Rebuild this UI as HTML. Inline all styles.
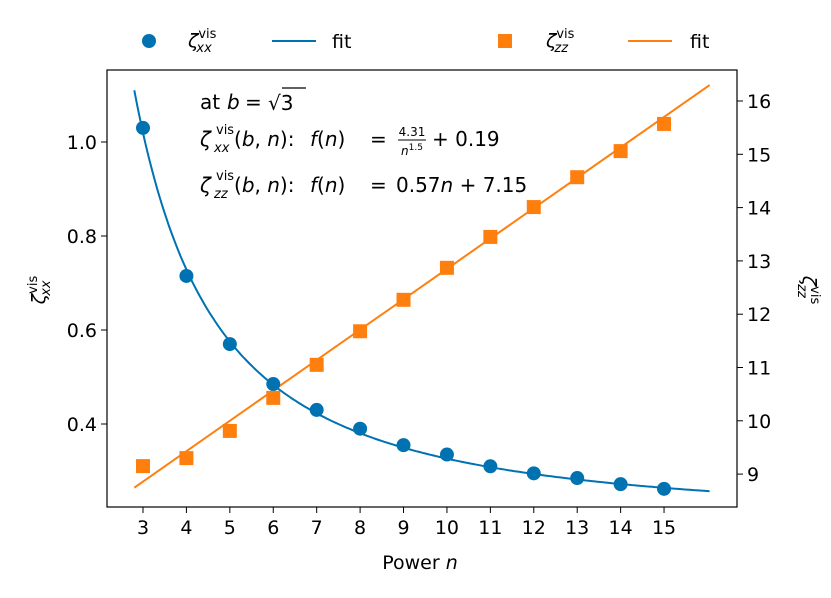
<!DOCTYPE html>
<html><head><meta charset="utf-8"><style>
body{margin:0;background:#fff;}
svg text{font-family:"DejaVu Sans","Liberation Sans",sans-serif;fill:#000;}
</style></head><body>
<svg id="c" width="831" height="593" viewBox="0 0 831 593"></svg>
<script>
const nValues=[3,4,5,6,7,8,9,10,11,12,13,14,15];
const zetaXX=[1.03,0.715,0.57,0.485,0.43,0.39,0.355,0.335,0.31,0.295,0.285,0.272,0.262];
const zetaZZ=[9.15,9.30,9.81,10.43,11.05,11.68,12.27,12.87,13.45,14.01,14.57,15.06,15.57];
const fitXX=[4.31,1.5,0.19];
const fitZZ=[0.57,7.15];
const leftTicks=[0.4,0.6,0.8,1.0];
const rightTicks=[9,10,11,12,13,14,15,16];
const xTicks=[3,4,5,6,7,8,9,10,11,12,13,14,15];

const svg=document.getElementById('c');
const NS='http://www.w3.org/2000/svg';
function mk(t,a,p){const e=document.createElementNS(NS,t);for(const k in a)e.setAttribute(k,a[k]);(p||svg).appendChild(e);return e;}
const X0=107,X1=737,Y0=70,Y1=507;
const xs=n=>143+(n-3)*43.42;
const yl=v=>142-(v-1.0)*470;
const yr=v=>101+(16-v)*53.3;
const B='#0072b2',O='#ff7f0e';
const NA=2.8,NB=16.05;

let d='';for(let i=0;i<=200;i++){const n=NA+i*(NB-NA)/200;d+=(i?'L':'M')+xs(n).toFixed(1)+','+yl(fitXX[0]/Math.pow(n,fitXX[1])+fitXX[2]).toFixed(1);}
let fb=mk('path',{d:d,stroke:B,'stroke-width':2,fill:'none'});


let fo=mk('line',{x1:xs(NA),y1:yr(fitZZ[0]*NA+fitZZ[1]),x2:xs(NB),y2:yr(fitZZ[0]*NB+fitZZ[1]),stroke:O,'stroke-width':2});


nValues.forEach((n,i)=>{
 const c=mk('circle',{cx:xs(n),cy:yl(zetaXX[i]),r:7,fill:B});
 
 
 const s=mk('rect',{x:xs(n)-7,y:yr(zetaZZ[i])-7,width:14,height:14,fill:O});
 
 
});
const fr=mk('rect',{x:X0,y:Y0,width:X1-X0,height:Y1-Y0,fill:'none',stroke:'#000','stroke-width':1.2});


xTicks.forEach(n=>{
 mk('line',{x1:xs(n),x2:xs(n),y1:Y1,y2:Y1+6,stroke:'#000'});
 const t=mk('text',{x:xs(n),y:Y1+27,'text-anchor':'middle','font-size':19});t.textContent=n;
 
 
});
leftTicks.forEach(v=>{
 mk('line',{x1:X0-6,x2:X0,y1:yl(v),y2:yl(v),stroke:'#000'});
 const t=mk('text',{x:X0-10,y:yl(v)+7,'text-anchor':'end','font-size':19});t.textContent=v.toFixed(1);
 
 
});
rightTicks.forEach(v=>{
 mk('line',{x1:X1,x2:X1+6,y1:yr(v),y2:yr(v),stroke:'#000'});
 const t=mk('text',{x:X1+10,y:yr(v)+7,'font-size':19});t.textContent=v;
 
 
});
</script>
<svg width="831" height="593" style="position:absolute;left:0;top:0">
<text x="420" y="569" text-anchor="middle" font-size="19">Power <tspan font-style="italic">n</tspan></text>
<text transform="translate(45,290) rotate(-90)" text-anchor="middle" font-size="19"><tspan font-style="italic">ζ</tspan><tspan font-size="13" dy="-8">vis</tspan><tspan font-size="13" dx="-20" dy="13" font-style="italic">xx</tspan></text>
<text transform="translate(803,290) rotate(90)" text-anchor="middle" font-size="19"><tspan font-style="italic">ζ</tspan><tspan font-size="13" dy="-8">vis</tspan><tspan font-size="13" dx="-20" dy="13" font-style="italic">zz</tspan></text>
<g font-size="20">
<text x="200" y="109">at</text><text x="227" y="109" font-style="italic">b</text><text x="245" y="109">=</text>
<text x="268" y="110">√3</text><line x1="282" y1="88" x2="306" y2="88" stroke="#000" stroke-width="1.2"/>
</g>
<g font-size="20">
<text x="200" y="146" font-style="italic">ζ</text>
<text x="216" y="134" font-size="13">vis</text>
<text x="214" y="152" font-size="13" font-style="italic">xx</text>
<text x="234" y="146">(<tspan font-style="italic">b</tspan>, <tspan font-style="italic">n</tspan>):</text>
<text x="310" y="146"><tspan font-style="italic">f</tspan>(<tspan font-style="italic">n</tspan>)</text>
<text x="370" y="146">=</text>
<text x="412" y="136" font-size="12" text-anchor="middle">4.31</text>
<text x="412" y="155" font-size="12" text-anchor="middle"><tspan font-style="italic">n</tspan><tspan font-size="9" dy="-5">1.5</tspan></text>
<line x1="398" y1="140" x2="426" y2="140" stroke="#000" stroke-width="0.9"/>
<text x="432" y="146">+ 0.19</text>
</g>
<g font-size="20">
<text x="200" y="192" font-style="italic">ζ</text>
<text x="216" y="180" font-size="13">vis</text>
<text x="214" y="198" font-size="13" font-style="italic">zz</text>
<text x="234" y="192">(<tspan font-style="italic">b</tspan>, <tspan font-style="italic">n</tspan>):</text>
<text x="310" y="192"><tspan font-style="italic">f</tspan>(<tspan font-style="italic">n</tspan>)</text>
<text x="370" y="192">=</text>
<text x="396" y="192">0.57<tspan font-style="italic">n</tspan> + 7.15</text>
</g>
<g>
<circle cx="149" cy="41" r="7" fill="#0072b2"/>
<text x="188" y="47" font-size="19"><tspan font-style="italic">ζ</tspan><tspan font-size="13" dy="-9">vis</tspan><tspan font-size="13" dx="-20" dy="14" font-style="italic">xx</tspan></text>
<line x1="272" y1="41" x2="316" y2="41" stroke="#0072b2" stroke-width="2"/>
<text x="332" y="48" font-size="19">fit</text>
<rect x="498" y="34" width="14" height="14" fill="#ff7f0e"/>
<text x="546" y="47" font-size="19"><tspan font-style="italic">ζ</tspan><tspan font-size="13" dy="-9">vis</tspan><tspan font-size="13" dx="-20" dy="14" font-style="italic">zz</tspan></text>
<line x1="628" y1="41" x2="672" y2="41" stroke="#ff7f0e" stroke-width="2"/>
<text x="690" y="48" font-size="19">fit</text>
</g>
</svg>
</body></html>
